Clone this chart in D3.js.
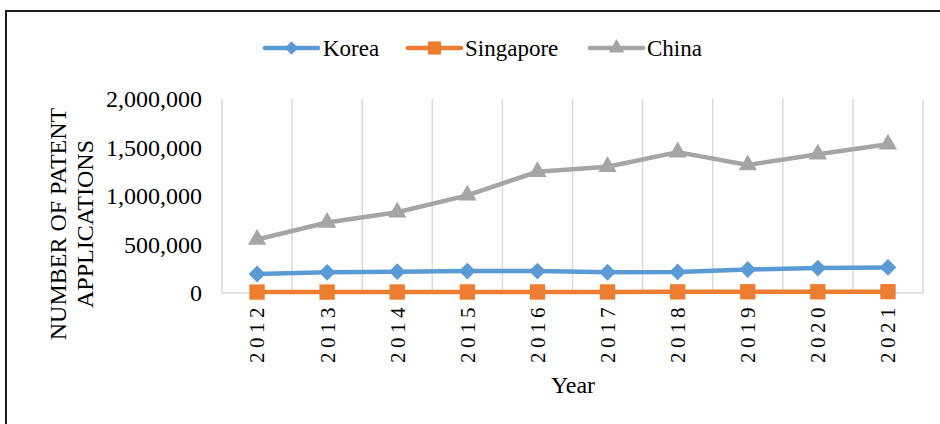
<!DOCTYPE html>
<html>
<head>
<meta charset="utf-8">
<script src="https://cdn.jsdelivr.net/npm/d3@7"></script>
<style>
  html, body { margin: 0; padding: 0; background: #fff; }
  svg { display: block; }
  svg text { font-family: "Liberation Serif", "Times New Roman", serif; fill: #000; }
</style>
</head>
<body>
<svg id="chart" width="940" height="424"></svg>
<script>
// Patent applications by year
const years = ["2012", "2013", "2014", "2015", "2016", "2017", "2018", "2019", "2020", "2021"];
const korea = [196000, 213000, 220000, 226000, 226000, 214000, 217000, 242000, 257000, 264000];
const singapore = [9700, 9700, 10300, 10800, 10800, 10900, 11800, 13000, 12400, 14000];
const china = [552000, 727000, 832000, 1007000, 1250000, 1302000, 1452000, 1320000, 1430000, 1533000];
const yTicks = [0, 500000, 1000000, 1500000, 2000000];

const seriesNames = ["Korea", "Singapore", "China"];
const seriesColors = ["#5B9BD5", "#ED7D31", "#A5A5A5"];
const seriesValues = [korea, singapore, china];
const seriesSymbols = [d3.symbolDiamond2, d3.symbolSquare2, d3.symbolTriangle2];
const markerSizes = [180, 300, 240];
const legendMarkerSizes = [120, 220, 170];

const svg = d3.select("#chart");
const plot = { left: 222, right: 923, top: 99, bottom: 293 };

const x = d3.scaleBand().domain(years).range([plot.left, plot.right]).padding(0);
const y = d3.scaleLinear().domain([0, 2000000]).range([plot.bottom, plot.top]);

// outer frame
svg.append("rect")
  .attr("x", 6).attr("y", 11)
  .attr("width", 960).attr("height", 440)
  .attr("fill", "none").attr("stroke", "#1a1a1a").attr("stroke-width", 2);

// vertical category gridlines
const gridX = years.map(d => x(d)).concat([x(years[years.length - 1]) + x.bandwidth()]);
svg.append("g").selectAll("line").data(gridX).join("line")
  .attr("x1", d => d).attr("x2", d => d)
  .attr("y1", plot.top).attr("y2", plot.bottom)
  .attr("stroke", "#d9d9d9").attr("stroke-width", 1.5);

// baseline
svg.append("line")
  .attr("x1", plot.left).attr("x2", plot.right)
  .attr("y1", y(0)).attr("y2", y(0))
  .attr("stroke", "#d9d9d9").attr("stroke-width", 1.5);

// y axis
const yAxis = svg.append("g")
  .attr("transform", `translate(${plot.left},0)`)
  .call(d3.axisLeft(y).tickValues(yTicks).tickSize(0).tickPadding(20).tickFormat(d3.format(",")));
yAxis.attr("font-family", null).attr("font-size", null);
yAxis.select(".domain").remove();
yAxis.selectAll("text")
  .style("font-size", "24px");

// x axis
const xAxis = svg.append("g")
  .attr("transform", `translate(0,${plot.bottom})`)
  .call(d3.axisBottom(x).tickSize(0));
xAxis.attr("font-family", null).attr("font-size", null);
xAxis.select(".domain").remove();
xAxis.selectAll("text")
  .style("font-size", "21px")
  .style("letter-spacing", "4.5px")
  .attr("text-anchor", "end")
  .attr("transform", "rotate(-90)")
  .attr("x", -10).attr("y", 0).attr("dy", "0.35em");

// axis titles
svg.append("text")
  .attr("x", 573).attr("y", 393)
  .attr("text-anchor", "middle")
  .style("font-size", "24px")
  .text("Year");

const yTitle = svg.append("text")
  .attr("transform", "translate(66,224) rotate(-90)")
  .attr("text-anchor", "middle")
  .style("font-size", "24px");
yTitle.append("tspan").attr("x", 0).attr("y", 0).text("NUMBER OF PATENT");
yTitle.append("tspan").attr("x", 0).attr("y", 27).text("APPLICATIONS");

// series lines and markers
const line = d3.line().x((d, i) => x(years[i]) + x.bandwidth() / 2).y(d => y(d));
seriesValues.forEach((vals, s) => {
  const g = svg.append("g");
  g.append("path")
    .datum(vals)
    .attr("d", line)
    .attr("fill", "none")
    .attr("stroke", seriesColors[s])
    .attr("stroke-width", 4.5)
    .attr("stroke-linejoin", "round");
  g.selectAll("path.marker").data(vals).join("path")
    .attr("class", "marker")
    .attr("transform", (d, i) => `translate(${x(years[i]) + x.bandwidth() / 2},${y(d)})`)
    .attr("d", d3.symbol().type(seriesSymbols[s]).size(markerSizes[s]))
    .attr("fill", seriesColors[s]);
});

// legend
const legendItems = [
  { lineX: 265, textX: 323 },
  { lineX: 408, textX: 465 },
  { lineX: 590, textX: 647 }
];
const legendY = 48;
legendItems.forEach((it, s) => {
  const g = svg.append("g");
  g.append("line")
    .attr("x1", it.lineX).attr("x2", it.lineX + 53)
    .attr("y1", legendY).attr("y2", legendY)
    .attr("stroke", seriesColors[s]).attr("stroke-width", 4.5)
    .attr("stroke-linecap", "round");
  g.append("path")
    .attr("transform", `translate(${it.lineX + 26.5},${legendY})`)
    .attr("d", d3.symbol().type(seriesSymbols[s]).size(legendMarkerSizes[s]))
    .attr("fill", seriesColors[s]);
  g.append("text")
    .attr("x", it.textX).attr("y", legendY + 8)
    .style("font-size", "23px")
    .text(seriesNames[s]);
});
</script>
</body>
</html>
